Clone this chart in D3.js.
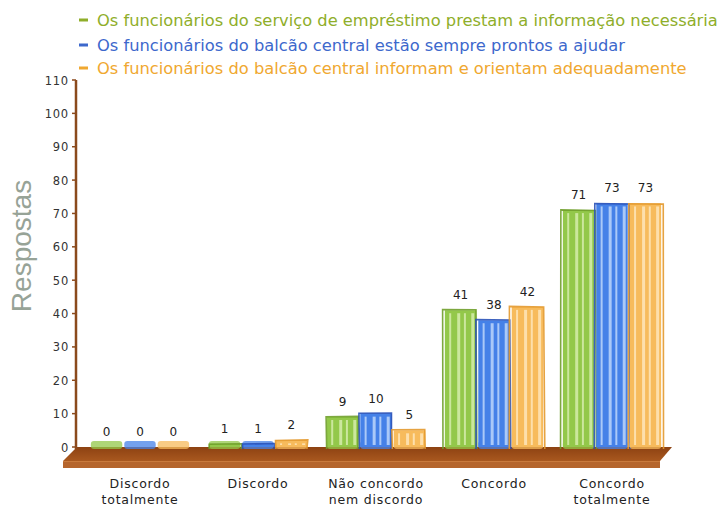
<!DOCTYPE html>
<html><head><meta charset="utf-8">
<script src="https://cdn.jsdelivr.net/npm/d3@7/dist/d3.min.js"></script>
<style>body{margin:0;background:#fff}svg{display:block}</style>
</head><body>
<svg id="c" width="721" height="506"></svg>
<script>
const categories = ["Discordo totalmente","Discordo","Não concordo nem discordo","Concordo","Concordo totalmente"];
const categoryLines = [["Discordo","totalmente"],["Discordo"],["Não concordo","nem discordo"],["Concordo"],["Concordo","totalmente"]];
const seriesNames = [
  "Os funcionários do serviço de empréstimo prestam a informação necessária",
  "Os funcionários do balcão central estão sempre prontos a ajudar",
  "Os funcionários do balcão central informam e orientam adequadamente"
];
const valuesEmprestimo = [0, 1, 9, 41, 71];
const valuesAjudar = [0, 1, 10, 38, 73];
const valuesOrientam = [0, 2, 5, 42, 73];
const yTicks = [0,10,20,30,40,50,60,70,80,90,100,110];

const seriesValues = [valuesEmprestimo, valuesAjudar, valuesOrientam];
const fills = ["#93c84a","#4581e8","#f7bb5c"];
const lights = ["#d2eaa6","#b5d0fa","#fde3b5"];
const strokes = ["#6f9e2a","#2a52b8","#e3992e"];
const legendColors = ["#8fae2a","#3d68cc","#f0a830"];

const svg = d3.select("#c");
const y = d3.scaleLinear().domain([0,110]).range([447,80]);
const x0 = d3.scaleBand().domain(categories).range([81,671]).paddingInner(0.15).paddingOuter(0.075);
const x1 = d3.scaleBand().domain(d3.range(3)).range([0,x0.bandwidth()]);

// legend
const lg = svg.append("g");
seriesNames.forEach((s,i)=>{
  const yy = [20,45,68][i];
  lg.append("rect").attr("x",79).attr("y",yy-1.5).attr("width",9).attr("height",3).attr("fill",legendColors[i]);
  lg.append("text").attr("x",97).attr("y",yy+5.5).attr("font-family","DejaVu Sans, Verdana, sans-serif")
    .attr("font-size",16.3).attr("fill",legendColors[i]).text(s);
});

// y title
svg.append("text").attr("transform","translate(31,246) rotate(-90)").attr("text-anchor","middle")
  .attr("font-family","Liberation Sans, Arial, sans-serif").attr("font-size",28).attr("fill","#97a397").text("Respostas");

// floor
const y0 = y(0);
const defs = svg.append("defs");
const gr = defs.append("linearGradient").attr("id","fl").attr("x1",0).attr("x2",0).attr("y1",0).attr("y2",1);
gr.append("stop").attr("offset","0%").attr("stop-color","#8d4212");
gr.append("stop").attr("offset","100%").attr("stop-color","#a9581f");
const xl = x0.range()[0], xr = x0.range()[1];
svg.append("path").attr("d",`M${xl-4},${y0} L${xr+1},${y0} L${xr-11},${y0+14} L${xl-18},${y0+14} Z`).attr("fill","url(#fl)");
svg.append("path").attr("d",`M${xl-18},${y0+14} L${xr-11},${y0+14} L${xr-11},${y0+21} L${xl-18},${y0+21} Z`).attr("fill","#b5652c");
svg.append("line").attr("x1",xl-18).attr("x2",xr-11).attr("y1",y0+14.5).attr("y2",y0+14.5).attr("stroke","#c97a3c").attr("stroke-width",1);

// y axis
const ax = svg.append("g");
ax.append("line").attr("x1",76).attr("x2",76).attr("y1",y(110)).attr("y2",y0+2).attr("stroke","#8b4a1c").attr("stroke-width",2.5);
yTicks.forEach(t=>{
  ax.append("line").attr("x1",72).attr("x2",76).attr("y1",y(t)).attr("y2",y(t)).attr("stroke","#8b4a1c").attr("stroke-width",1.5);
  ax.append("text").attr("x",69).attr("y",y(t)+4.5).attr("text-anchor","end")
    .attr("font-family","DejaVu Sans, Verdana, sans-serif").attr("font-size",11.5).attr("letter-spacing","0.8")
    .attr("fill","#333").text(t);
});

// bars (sketch style)
const bars = svg.append("g");
function wob(k){ return Math.sin(k*12.9898)*1.4; }
categories.forEach((c,ci)=>{
  seriesValues.forEach((vals,si)=>{
    const v = vals[ci];
    const bx = x0(c)+x1(si), bw = x1.bandwidth();
    const top = y(v), h = y0-top;
    const g = bars.append("g");
    g.append("rect").attr("x",bx+1).attr("y",y0-6).attr("width",bw-2).attr("height",8).attr("rx",3)
      .attr("fill",fills[si]).attr("opacity",0.75);
    if (h > 0) {
      g.append("rect").attr("x",bx+1).attr("y",top).attr("width",bw-2).attr("height",h).attr("fill",fills[si]);
      [0.16,0.4,0.6,0.82].forEach((f,k)=>{
        g.append("rect").attr("x",bx+bw*f).attr("y",top+3).attr("width",k%2?3:2).attr("height",Math.max(0,h-5))
          .attr("fill",lights[si]).attr("opacity",0.9);
      });
      const k = ci*3+si;
      const p = d3.path();
      p.moveTo(bx+wob(k),y0+2); p.lineTo(bx+wob(k+1),top+wob(k+2)*0.5);
      p.lineTo(bx+bw+wob(k+3),top+wob(k+4)*0.5); p.lineTo(bx+bw+wob(k+5),y0+2);
      g.append("path").attr("d",p.toString()).attr("fill","none").attr("stroke",strokes[si]).attr("stroke-width",1.6).attr("opacity",0.9);
    }
    bars.append("text").attr("x",bx+bw/2).attr("y",top-11).attr("text-anchor","middle")
      .attr("font-family","DejaVu Sans, Verdana, sans-serif").attr("font-size",12).attr("fill","#222").text(v);
  });
});

// x labels
categories.forEach((c,ci)=>{
  const cx = x0(c)+x0.bandwidth()/2;
  categoryLines[ci].forEach((ln,li)=>{
    svg.append("text").attr("x",cx).attr("y",488+li*16).attr("text-anchor","middle")
      .attr("font-family","DejaVu Sans, Verdana, sans-serif").attr("font-size",12.5).attr("letter-spacing","0.8")
      .attr("fill","#222").text(ln);
  });
});
</script>
</body></html>
